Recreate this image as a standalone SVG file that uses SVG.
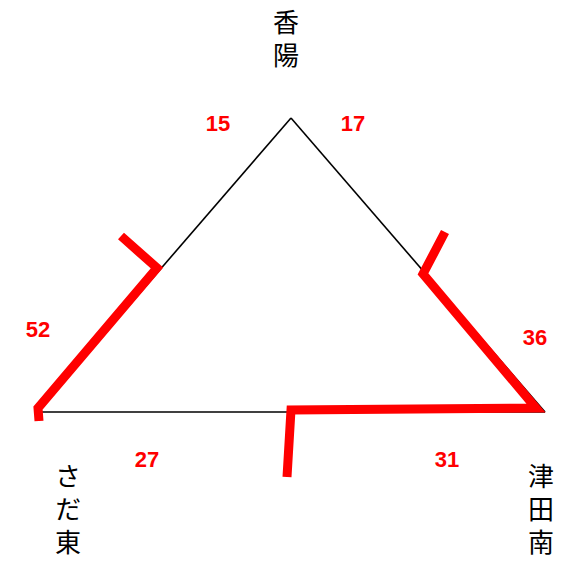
<svg xmlns="http://www.w3.org/2000/svg" width="576" height="562" viewBox="0 0 576 562">
<style>
.edge{stroke:#000;stroke-width:1.6;fill:none}
.route{stroke:#ff0000;stroke-width:9;fill:none;stroke-linejoin:miter}
.num{fill:#ff0000;font-family:"Liberation Sans",Arial,sans-serif;font-weight:bold;font-size:22px;text-anchor:middle}
.name{fill:#000;font-family:"Noto Sans CJK JP","Noto Sans CJK SC",sans-serif;font-size:26px;writing-mode:vertical-rl;text-orientation:upright;letter-spacing:7px}
</style>
<rect width="576" height="562" fill="#fff"/>
<g id="connectors">
<line class="edge" x1="291" y1="118" x2="37" y2="412"/>
<line class="edge" x1="291" y1="118" x2="545" y2="412"/>
<line class="edge" x1="37" y1="412" x2="545" y2="412"/>
<polygon points="545,412 535,405 538,412" fill="#000"/>
<polyline class="route" points="121,236 157,268 38,408 39,421"/>
<polyline class="route" points="445,232 423,274 536,408 291,410 287,477"/>
</g>
<g id="node-kouyou"><text class="name" x="286" y="9">香陽</text></g>
<g id="node-sadahigashi"><text class="name" x="68" y="463">さだ東</text></g>
<g id="node-tsudaminami"><text class="name" x="541" y="463">津田南</text></g>
<g id="labels">
<text class="num" x="218" y="131">15</text>
<text class="num" x="353" y="131">17</text>
<text class="num" x="38" y="337">52</text>
<text class="num" x="535" y="345">36</text>
<text class="num" x="147" y="467">27</text>
<text class="num" x="447" y="467">31</text>
</g>
</svg>
